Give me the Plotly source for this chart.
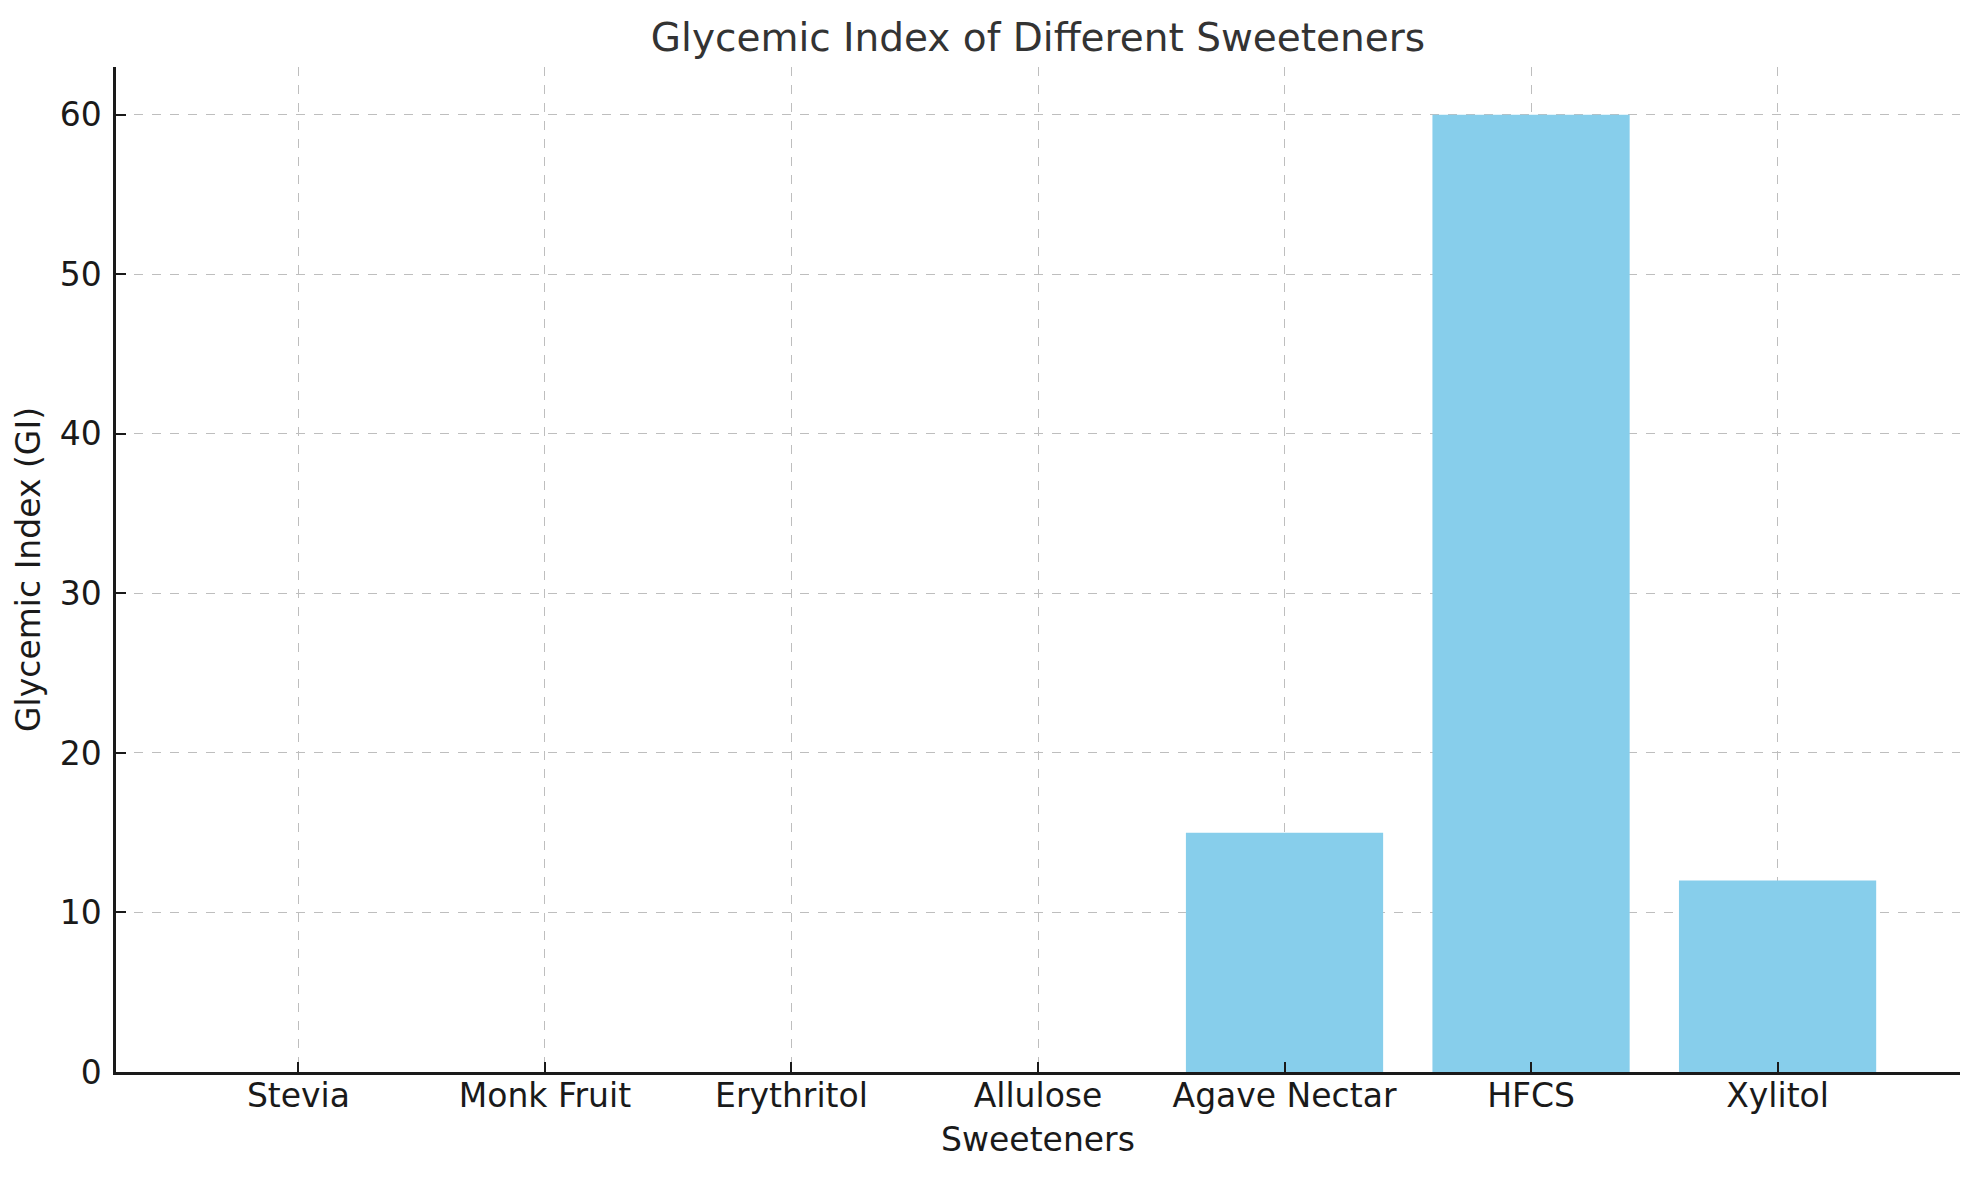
import plotly.graph_objects as go

sweeteners = ["Stevia", "Monk Fruit", "Erythritol", "Allulose", "Agave Nectar", "HFCS", "Xylitol"]
gi_values = [0, 0, 0, 0, 15, 60, 12]
y_ticks = [0, 10, 20, 30, 40, 50, 60]

fig = go.Figure()
fig.add_trace(go.Bar(x=sweeteners, y=gi_values, width=0.8,
                     marker=dict(color="#87CEEB", line=dict(width=0))))

font = "DejaVu Sans"
fig.update_layout(
    width=1980, height=1180,
    margin=dict(l=108, r=28, t=59, b=116),
    paper_bgcolor="white", plot_bgcolor="white",
    font=dict(family=font, size=33, color="#1a1a1a"),
    title=dict(text="Glycemic Index of Different Sweeteners", x=0.5, xref="paper",
               xanchor="center", y=1 - 29 / 1180, yanchor="middle",
               font=dict(family=font, size=39, color="#333333")),
    showlegend=False,
)
fig.update_xaxes(
    title=dict(text="Sweeteners", standoff=14, font=dict(size=33, color="#1a1a1a")),
    range=[-0.74, 6.74],
    showline=True, linecolor="#1a1a1a", linewidth=2.5,
    ticks="inside", ticklen=10, tickwidth=2, tickcolor="#1a1a1a",
    ticklabelstandoff=-7,
    showgrid=True, gridcolor="#bebebe", gridwidth=1.3, griddash="dash",
    tickfont=dict(size=33, color="#1a1a1a"),
)
fig.update_yaxes(
    title=dict(text="Glycemic Index (GI)", standoff=10, font=dict(size=33, color="#1a1a1a")),
    range=[0, 63], tickvals=y_ticks,
    showline=True, linecolor="#1a1a1a", linewidth=2.5,
    ticks="inside", ticklen=10, tickwidth=2, tickcolor="#1a1a1a",
    ticklabelstandoff=5,
    showgrid=True, gridcolor="#bebebe", gridwidth=1.3, griddash="dash",
    zeroline=False,
    tickfont=dict(size=33, color="#1a1a1a"),
)

fig.write_html("out.html")
